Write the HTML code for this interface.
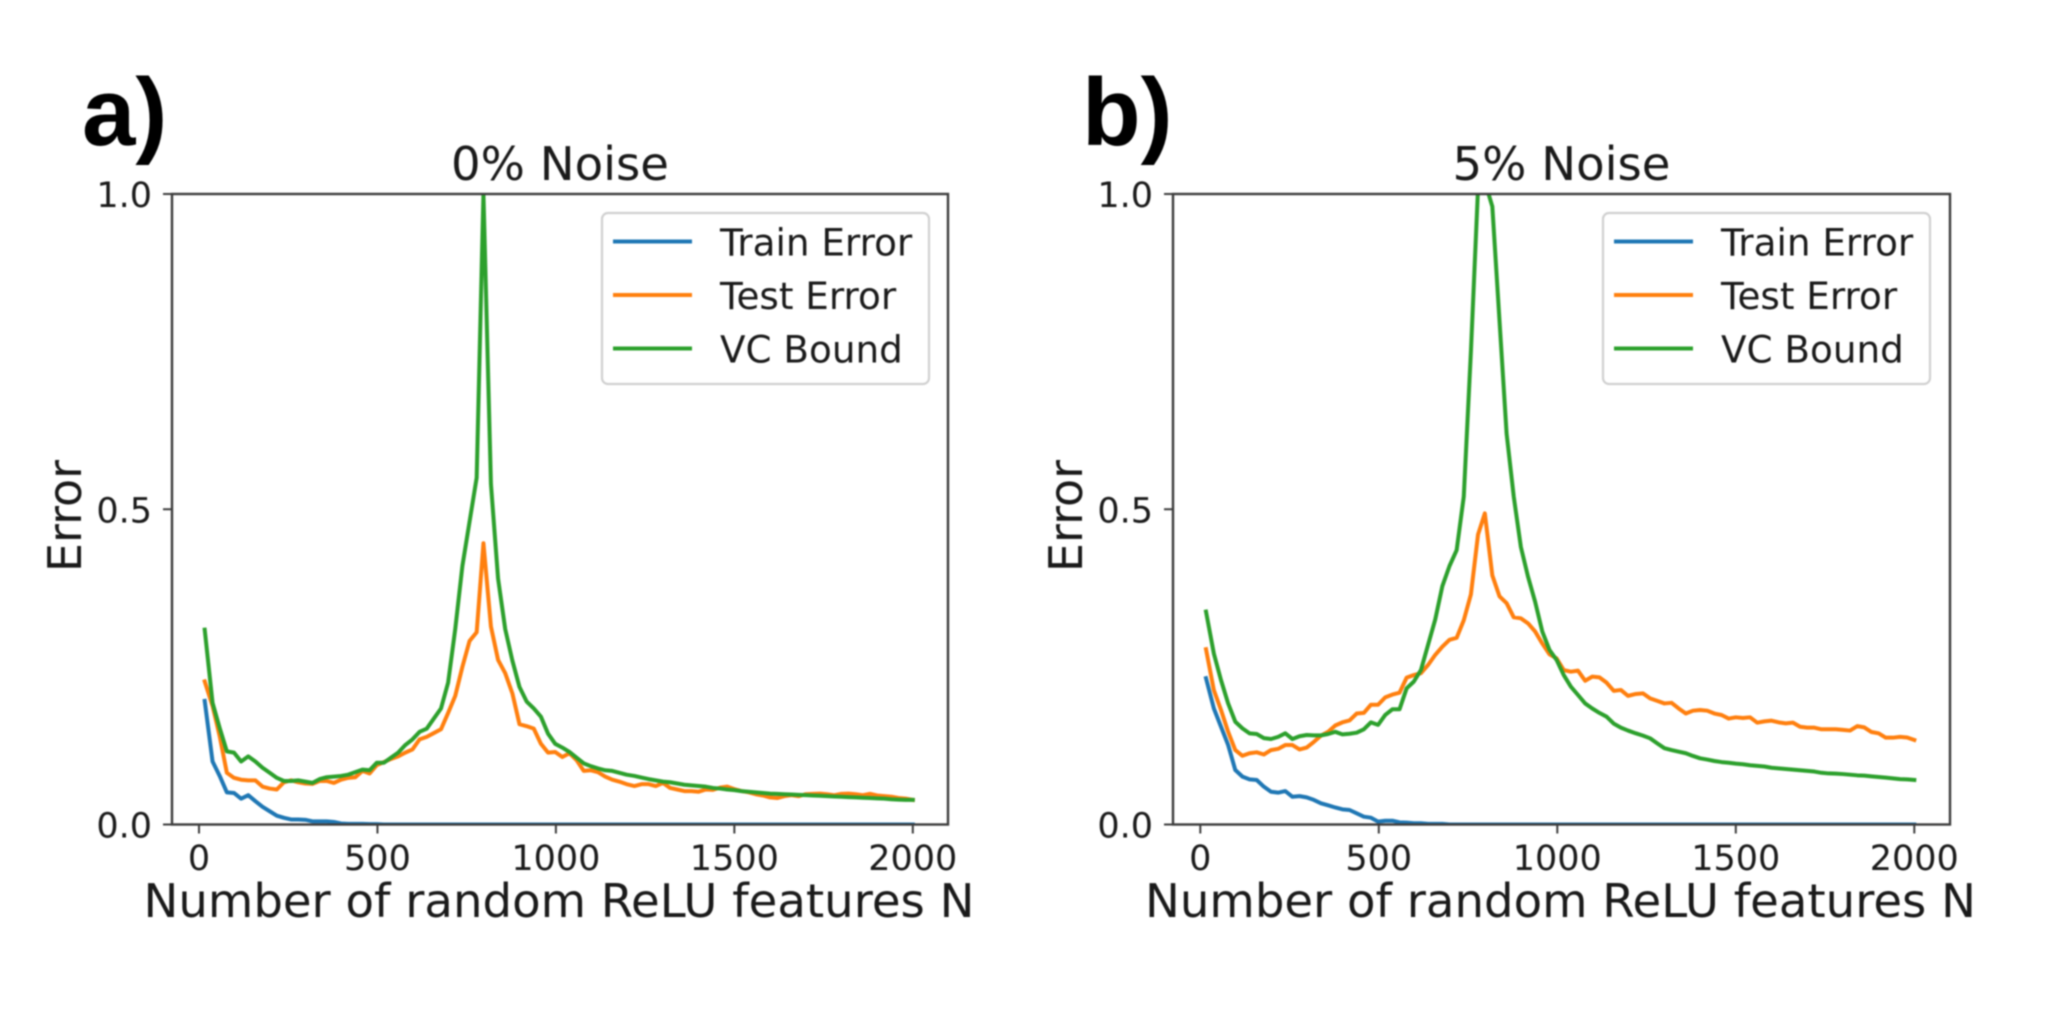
<!DOCTYPE html>
<html>
<head>
<meta charset="utf-8">
<title>Error vs number of random ReLU features</title>
<style>
html,body{margin:0;padding:0;background:#fff;width:2048px;height:1022px;overflow:hidden}
svg{display:block;filter:blur(0.7px)}
text{font-family:"DejaVu Sans","Liberation Sans",sans-serif;fill:#1a1a1a}
.panel{font-family:"Liberation Sans",Arial,sans-serif;font-weight:700;font-size:96px;fill:#000}
</style>
</head>
<body>
<svg id="figure" xmlns="http://www.w3.org/2000/svg" width="2048" height="1022" viewBox="0 0 2048 1022"></svg>
<script>
var featureCounts = [
16,38,58,78,98,118,138,158,178,198,
218,238,258,278,298,318,338,358,378,398,
418,438,458,478,498,518,538,558,578,598,
618,638,658,678,698,718,738,758,778,797,
818,838,858,878,898,918,938,958,978,998,
1018,1038,1058,1078,1098,1118,1138,1158,1178,1198,
1220,1240,1260,1280,1300,1320,1340,1360,1380,1400,
1420,1440,1460,1480,1500,1520,1540,1560,1580,1600,
1620,1640,1660,1680,1700,1720,1740,1760,1780,1800,
1820,1840,1860,1880,1900,1920,1940,1960,1980,2000];

var trainError0 = [
.196,.100,.077,.051,.050,.041,.0465,.037,.028,.021,
.014,.0106,.008,.008,.0074,.005,.005,.005,.004,.0016,
.001,.001,.001,.0005,.0005,0,0,0,0,0,
0,0,0,0,0,0,0,0,0,0,
0,0,0,0,0,0,0,0,0,0,
0,0,0,0,0,0,0,0,0,0,
0,0,0,0,0,0,0,0,0,0,
0,0,0,0,0,0,0,0,0,0,
0,0,0,0,0,0,0,0,0,0,
0,0,0,0,0,0,0,0,0,0];

var testError0 = [
.227,.188,.140,.082,.074,.071,.070,.070,.060,.057,
.0555,.067,.070,.067,.065,.0645,.069,.069,.066,.071,
.074,.075,.085,.081,.094,.099,.104,.108,.114,.119,
.135,.139,.145,.151,.177,.204,.250,.291,.305,.446,
.314,.261,.240,.208,.159,.156,.152,.128,.114,.115,
.107,.113,.102,.085,.086,.083,.076,.071,.068,.064,
.061,.064,.064,.061,.066,.058,.0555,.053,.053,.052,
.0555,.055,.0585,.060,.056,.053,.051,.048,.046,.043,
.042,.045,.0465,.045,.048,.0486,.049,.048,.0465,.0486,
.049,.048,.0465,.0486,.046,.045,.044,.042,.041,.039];

var vcBound0 = [
.309,.193,.153,.116,.114,.100,.108,.100,.090,.082,
.074,.069,.069,.070,.068,.066,.072,.075,.076,.077,
.079,.083,.087,.086,.098,.098,.106,.114,.126,.135,
.147,.152,.168,.184,.225,.310,.410,.480,.550,1.00,
.540,.390,.310,.260,.218,.195,.184,.171,.144,.128,
.122,.115,.106,.097,.0925,.089,.086,.085,.082,.079,
.077,.0745,.072,.070,.068,.067,.065,.063,.062,.061,
.060,.058,.057,.0555,.0545,.053,.052,.051,.050,.049,
.0485,.048,.0475,.047,.0465,.046,.0455,.045,.0445,.044,
.0435,.043,.0425,.042,.0415,.041,.040,.0395,.039,.039];

var trainError5 = [
.232,.184,.155,.126,.0864,.0759,.0716,.0706,.060,.052,
.0505,.053,.044,.045,.043,.039,.0336,.0304,.027,.024,
.023,.0177,.0124,.0108,.0045,.006,.006,.0034,.003,.002,
.002,.001,.001,.001,0,0,0,0,0,0,
0,0,0,0,0,0,0,0,0,0,
0,0,0,0,0,0,0,0,0,0,
0,0,0,0,0,0,0,0,0,0,
0,0,0,0,0,0,0,0,0,0,
0,0,0,0,0,0,0,0,0,0,
0,0,0,0,0,0,0,0,0,0];

var testError5 = [
.278,.213,.1816,.147,.118,.109,.113,.1145,.111,.118,
.120,.126,.126,.119,.122,.131,.141,.147,.157,.162,
.165,.176,.177,.190,.190,.2017,.206,.209,.233,.237,
.240,.253,.269,.282,.293,.296,.324,.365,.460,.4935,
.395,.362,.351,.3286,.327,.319,.306,.287,.270,.2635,
.245,.2424,.244,.228,.2345,.2334,.225,.212,.2134,.204,
.207,.208,.200,.196,.192,.193,.184,.176,.1805,.1816,
.1805,.176,.1737,.168,.170,.169,.170,.1615,.1636,.1647,
.162,.1604,.1615,.155,.1536,.1536,.151,.151,.151,.150,
.149,.156,.154,.1467,.1446,.1377,.1377,.139,.138,.134];

var vcBound5 = [
.3376,.271,.229,.192,.163,.1525,.1446,.1435,.137,.1356,
.139,.1446,.1356,.140,.142,.1414,.1414,.1435,.147,.143,
.144,.1456,.151,.162,.158,.1737,.1827,.1827,.216,.2266,
.245,.285,.325,.378,.410,.435,.520,.750,1.01,1.02,
.980,.800,.620,.520,.440,.393,.353,.306,.277,.261,
.237,.2186,.2054,.192,.184,.177,.171,.160,.1536,.149,
.1446,.141,.1367,.1287,.121,.118,.1155,.113,.1087,.105,
.103,.1007,.099,.098,.0965,.0955,.094,.093,.092,.090,
.089,.088,.087,.086,.085,.084,.082,.081,.0806,.080,
.079,.078,.0775,.0764,.0753,.0743,.0732,.072,.0716,.0706];

var xTicks = [0, 500, 1000, 1500, 2000];
var yTicks = [0, 0.5, 1];
var yTickLabels = ["0.0", "0.5", "1.0"];
var seriesNames = ["Train Error", "Test Error", "VC Bound"];
var seriesColors = ["#1f77b4", "#ff7f0e", "#2ca02c"];

var NS = "http://www.w3.org/2000/svg";
var root = document.getElementById("figure");

function make(tag, attrs, parent, text) {
  var el = document.createElementNS(NS, tag);
  for (var k in attrs) el.setAttribute(k, attrs[k]);
  if (text !== undefined) el.textContent = text;
  parent.appendChild(el);
  return el;
}

function drawChart(prefix, left, right, zeroX, pxPerN, title, series) {
  var top = 194, bottom = 824.5;
  function xScale(n) { return zeroX + n * pxPerN; }
  function yScale(v) { return bottom - v * (bottom - top); }

  var g = make("g", {}, root);
  
  

  var clip = make("clipPath", {id: prefix + "-clip"}, g);
  make("rect", {x: left, y: top, width: right - left, height: bottom - top}, clip);

  var lines = make("g", {"clip-path": "url(#" + prefix + "-clip)"}, g);
  series.forEach(function (values, i) {
    var d = values.map(function (v, j) {
      return (j ? "L" : "M") + xScale(featureCounts[j]).toFixed(2) + " " + yScale(v).toFixed(2);
    }).join("");
    var p = make("path", {d: d, fill: "none", stroke: seriesColors[i], "stroke-width": 4, "stroke-linejoin": "round", "stroke-linecap": "square"}, lines);
    
    
  });

  var frame = make("rect", {x: left, y: top, width: right - left, height: bottom - top, fill: "none", stroke: "#3c3c3c", "stroke-width": 2.4}, g);
  
  

  xTicks.forEach(function (t) {
    var x = xScale(t);
    var tick = make("line", {x1: x, x2: x, y1: bottom, y2: bottom + 9, stroke: "#3c3c3c", "stroke-width": 2}, g);
    
    
    var label = make("text", {x: x, y: 870, "text-anchor": "middle", "font-size": 35}, g, String(t));
    
    
  });

  yTicks.forEach(function (t, i) {
    var y = yScale(t);
    var tick = make("line", {x1: left - 9, x2: left, y1: y, y2: y, stroke: "#3c3c3c", "stroke-width": 2}, g);
    
    
    var label = make("text", {x: left - 20, y: y + 13, "text-anchor": "end", "font-size": 35}, g, yTickLabels[i]);
    
    
  });

  var cx = (left + right) / 2;
  var titleEl = make("text", {x: cx, y: 180, "text-anchor": "middle", "font-size": 46.6}, g, title);
  
  

  var xTitle = make("text", {x: cx - 1, y: 917, "text-anchor": "middle", "font-size": 46.6}, g, "Number of random ReLU features N");
  
  

  var yx = left - 91, yy = 516;
  var yTitle = make("text", {x: yx, y: yy, "text-anchor": "middle", "font-size": 46, transform: "rotate(-90 " + yx + " " + yy + ")"}, g, "Error");
  
  

  var legend = make("g", {transform: "translate(" + left + " 0)"}, g);
  
  
  make("rect", {x: 430, y: 213, width: 327, height: 171, rx: 6, fill: "#fff", "fill-opacity": 0.8, stroke: "#d0d0d0", "stroke-width": 2.2}, legend);
  seriesNames.forEach(function (name, i) {
    var y = 241.5 + i * 53.5;
    var swatch = make("line", {x1: 441, x2: 520, y1: y, y2: y, stroke: seriesColors[i], "stroke-width": 4}, legend);
    
    
    var label = make("text", {x: 548, y: y + 14, "font-size": 37.3}, legend, name);
    
    
  });
}

drawChart("noise-0", 172, 948, 199, 0.3569, "0% Noise", [trainError0, testError0, vcBound0]);
drawChart("noise-5", 1173, 1950, 1200.3, 0.3570, "5% Noise", [trainError5, testError5, vcBound5]);

var panelA = make("text", {x: 82, y: 145, "class": "panel"}, root, "a)");


var panelB = make("text", {x: 1082, y: 145, "class": "panel"}, root, "b)");


</script>
</body>
</html>
